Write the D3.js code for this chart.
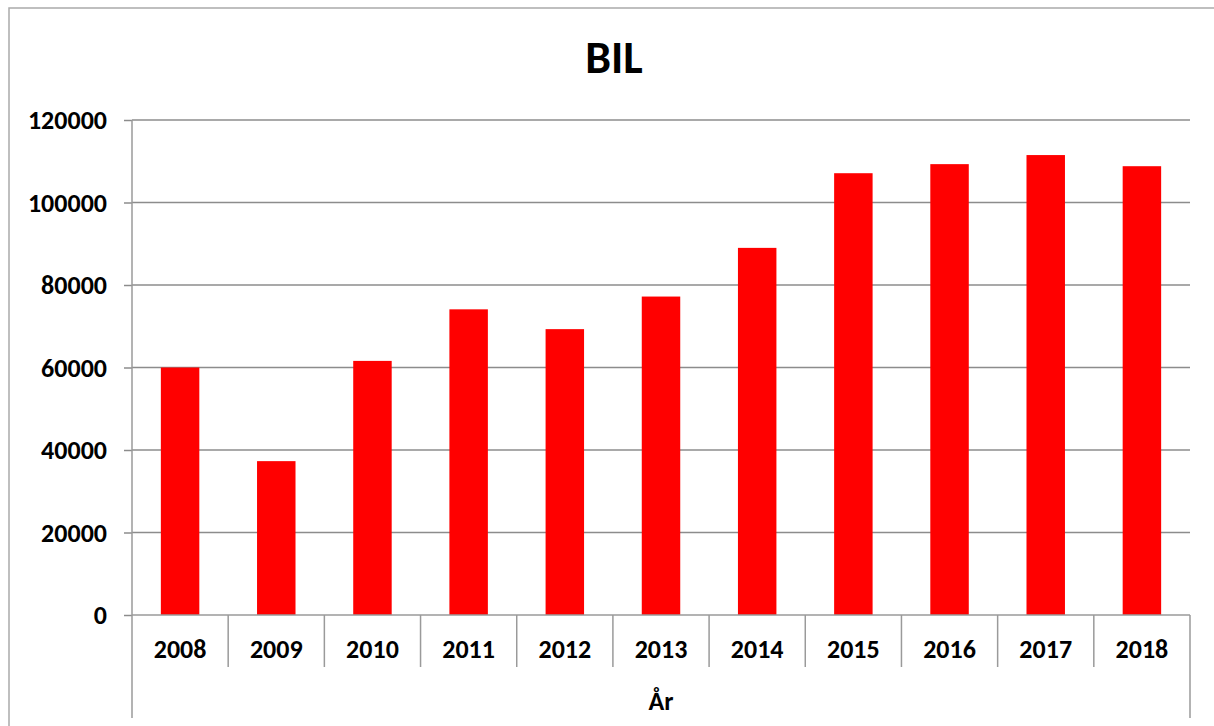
<!DOCTYPE html>
<html>
<head>
<meta charset="utf-8">
<script src="https://cdn.jsdelivr.net/npm/d3@7"></script>
<style>
  html, body { margin: 0; padding: 0; background: #fff; }
  svg { display: block; }
  text { font-family: Carlito, Calibri, "Liberation Sans", Arial, sans-serif; font-weight: bold; fill: #000; }
</style>
</head>
<body>
<svg id="chart" width="1214" height="726"></svg>
<script>
const years = ["2008","2009","2010","2011","2012","2013","2014","2015","2016","2017","2018"];
const values = [60000, 37300, 61600, 74100, 69300, 77200, 89000, 107100, 109300, 111500, 108800];
const yTicks = [0, 20000, 40000, 60000, 80000, 100000, 120000];
const title = "BIL";
const xTitle = "År";

(function () {
const svg = d3.select("#chart");
const pLeft = 132, pRight = 1190, pTop = 120, pBottom = 615;
const fs = 26;

// outer chart border (extends off-canvas on right/bottom)
svg.append("rect")
  .attr("x", 9).attr("y", 8).attr("width", 1300).attr("height", 900)
  .attr("fill", "none").attr("stroke", "#ababab").attr("stroke-width", 1.5);

const x = d3.scaleBand().domain(years).range([pLeft, pRight]).paddingInner(0.6).paddingOuter(0.3);
const y = d3.scaleLinear().domain([0, 120000]).range([pBottom, pTop]);

// gridlines
svg.append("g").selectAll("line").data(yTicks.filter(d => d > 0)).join("line")
  .attr("x1", pLeft).attr("x2", pRight)
  .attr("y1", d => y(d)).attr("y2", d => y(d))
  .attr("stroke", "#8c8c8c").attr("stroke-width", 1.5);

// bars
svg.append("g").selectAll("rect").data(values).join("rect")
  .attr("x", (d, i) => x(years[i]))
  .attr("width", x.bandwidth())
  .attr("y", d => y(d))
  .attr("height", d => y(0) - y(d))
  .attr("fill", "#ff0000");

// y axis
const yAxis = d3.axisLeft(y).tickValues(yTicks).tickSize(8).tickPadding(17).tickFormat(d3.format("d"));
const gy = svg.append("g").attr("transform", `translate(${pLeft},0)`).call(yAxis);
gy.select(".domain").remove();
gy.selectAll(".tick line").attr("stroke", "#8c8c8c").attr("stroke-width", 1.5);
gy.selectAll(".tick text").attr("font-size", fs).attr("dy", "0.33em")
  .style("font-family", 'Carlito, Calibri, "Liberation Sans", Arial, sans-serif').style("font-weight", "bold").attr("fill", "#000");

// vertical axis lines
svg.append("line").attr("x1", pLeft).attr("x2", pLeft).attr("y1", pTop).attr("y2", 718)
  .attr("stroke", "#9a9a9a").attr("stroke-width", 1.5);
svg.append("line").attr("x1", pRight).attr("x2", pRight).attr("y1", pBottom).attr("y2", 718)
  .attr("stroke", "#9a9a9a").attr("stroke-width", 1.5);

// x axis baseline
svg.append("line").attr("x1", pLeft).attr("x2", pRight).attr("y1", pBottom).attr("y2", pBottom)
  .attr("stroke", "#9a9a9a").attr("stroke-width", 1.5);

// category dividers
const step = x.step();
const bounds = years.slice(1).map(yr => x(yr) - x.paddingInner() * step / 2);
svg.append("g").selectAll("line").data(bounds).join("line")
  .attr("x1", d => d).attr("x2", d => d).attr("y1", pBottom).attr("y2", 667)
  .attr("stroke", "#9a9a9a").attr("stroke-width", 1.5);

// category labels
svg.append("g").selectAll("text").data(years).join("text")
  .attr("x", d => x(d) + x.bandwidth() / 2)
  .attr("y", 658)
  .attr("text-anchor", "middle")
  .attr("font-size", fs)
  .text(d => d);

// axis title
svg.append("text").attr("x", (pLeft + pRight) / 2).attr("y", 710)
  .attr("text-anchor", "middle").attr("font-size", fs).text(xTitle);

// chart title
svg.append("text").attr("x", 614).attr("y", 73)
  .attr("text-anchor", "middle").attr("font-size", 46).text(title);
})();
</script>
</body>
</html>
